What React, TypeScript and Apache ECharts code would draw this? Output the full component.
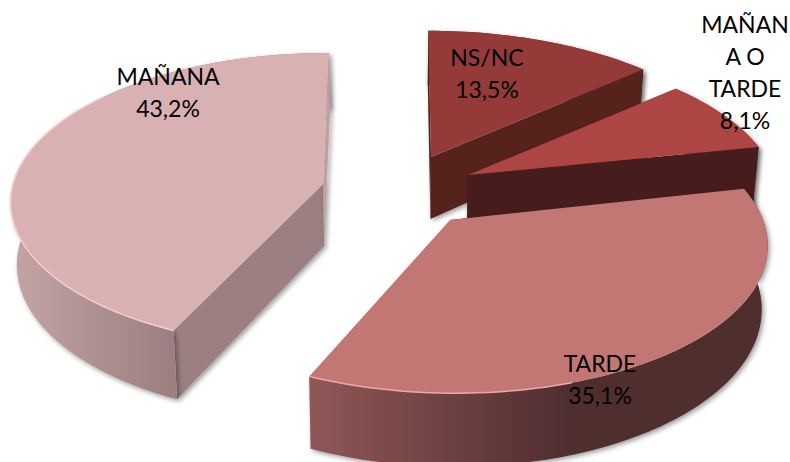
import React, { useEffect, useRef } from "react";
import * as echarts from "echarts";

// Clockwise from twelve o'clock
const categories = ["NS/NC", "MAÑANA O TARDE", "TARDE", "MAÑANA"];
const values = [13.5, 8.1, 35.1, 43.2];
const labelTexts = ["NS/NC\n13,5%", "MAÑAN\nA O\nTARDE\n8,1%", "TARDE\n35,1%", "MAÑANA\n43,2%"];

// Styling and layout, one entry per slice
const apexX = [431, 468, 450, 323];
const apexY = [157, 175, 220, 184];
const labelX = [487, 745, 600, 168];
const labelY = [73, 72, 379, 92];
const radiusX = [315, 307, 313, 310];
const radiusY = [146, 146, 146, 145.4];
const perspective = [0.157, 0.157, 0.157, 0.11];
const rotation = [0, 0.8, -0.6, 0.8];
const topColors = ["#943B39", "#AD4543", "#C37775", "#D9B1B2"];
const wallLeft = ["#54211F", "#471A1A", "#905758", "#C4A5A5"];
const wallRight = ["#54211F", "#471A1A", "#4F2D2F", "#9C7F80"];
const wallStop = [1, 1, 0.57, 0.5];
const startCutColors = ["#54211F", "#471A1A", "#471A1A", "#9C7F80"];
const endCutColors = ["#54211F", "#471A1A", "", "#BEA0A0"];
const rimColors = ["", "", "#F0A8A8", "#F6CCCC"];
const rimSpan = [0, 0, 42, 105];

const DEPTH = 62;
const VANISH_X = 395;
const LEAN = 0.55;

function project(i: number, deg: number, drop: number): number[] {
  const a = ((deg + rotation[i]) * Math.PI) / 180;
  const u = Math.sin(a);
  const v = -Math.cos(a);
  const s = 1 / (1 - perspective[i] * v);
  let x = apexX[i] + radiusX[i] * u * s + (apexX[i] - VANISH_X) * (s - 1) * LEAN;
  const y = apexY[i] + radiusY[i] * v * s + DEPTH * drop * s;
  x += (VANISH_X - x) * 0.016 * drop;
  return [x, y];
}

function apexPoint(i: number, drop: number): number[] {
  const x = apexX[i] + (VANISH_X - apexX[i]) * 0.016 * drop;
  return [x, apexY[i] + DEPTH * drop];
}

function arc(i: number, from: number, to: number, drop: number): number[][] {
  const steps = Math.max(2, Math.ceil(Math.abs(to - from) / 1.5));
  const pts: number[][] = [];
  for (let k = 0; k <= steps; k++) pts.push(project(i, from + ((to - from) * k) / steps, drop));
  return pts;
}

const shadow = { shadowColor: "rgba(0,0,0,0.4)", shadowBlur: 5, shadowOffsetX: 2, shadowOffsetY: 2 };

function renderSlice(params: any, api: any) {
  const i = params.dataIndex;
  let start = 0;
  for (let k = 0; k < i; k++) start += values[k];
  const a0 = (start / 100) * 360;
  const a1 = a0 + (Number(api.value(0)) / 100) * 360;

  const wall = arc(i, a0, a1, 0).concat(arc(i, a1, a0, 1));
  const startCut = [apexPoint(i, 0), project(i, a0, 0), project(i, a0, 1), apexPoint(i, 1)];
  const endCut = [apexPoint(i, 0), project(i, a1, 0), project(i, a1, 1), apexPoint(i, 1)];
  const top = [apexPoint(i, 0)].concat(arc(i, a0, a1, 0));

  const children: any[] = [
    { type: "polygon", shape: { points: startCut }, style: { fill: startCutColors[i], ...shadow } },
    {
      type: "polygon",
      shape: { points: wall },
      style: {
        fill: new echarts.graphic.LinearGradient(0, 0, 1, 0, [
          { offset: 0, color: wallLeft[i] },
          { offset: wallStop[i], color: wallRight[i] },
          { offset: 1, color: wallRight[i] },
        ]),
        ...shadow,
      },
    },
  ];
  if (endCutColors[i]) {
    children.push({ type: "polygon", shape: { points: endCut }, style: { fill: endCutColors[i], ...shadow } });
  }
  children.push({ type: "polygon", shape: { points: top }, style: { fill: topColors[i] } });
  if (rimSpan[i] > 0) {
    const spanStart = i === 3 ? a0 : a1 - rimSpan[i];
    const spanEnd = i === 3 ? a0 + rimSpan[i] : a1;
    children.push({
      type: "polyline",
      shape: { points: arc(i, spanStart, spanEnd, 0) },
      style: { fill: "none", stroke: rimColors[i], lineWidth: 1.5 },
    });
  }
  children.push({
    type: "text",
    z2: 100,
    style: {
      text: labelTexts[i],
      x: labelX[i],
      y: labelY[i],
      align: "center",
      verticalAlign: "middle",
      fill: "#000000",
      font: '23px Lato, "Open Sans", sans-serif',
      lineHeight: 32,
    },
  });
  return { type: "group", children };
}

export default function App() {
  const ref = useRef<HTMLDivElement>(null);
  useEffect(() => {
    document.body.style.margin = "0";
    const chart = echarts.init(ref.current!, null, { renderer: "svg" });
    chart.setOption({
      animation: false,
      backgroundColor: "#ffffff",
      series: [
        {
          type: "custom",
          coordinateSystem: "none",
          renderItem: renderSlice,
          data: categories.map((name, i) => ({ name, value: [values[i]] })),
          silent: true,
        },
      ],
    });
    return () => chart.dispose();
  }, []);
  return <div ref={ref} style={{ width: 790, height: 462, overflow: "hidden" }} />;
}
